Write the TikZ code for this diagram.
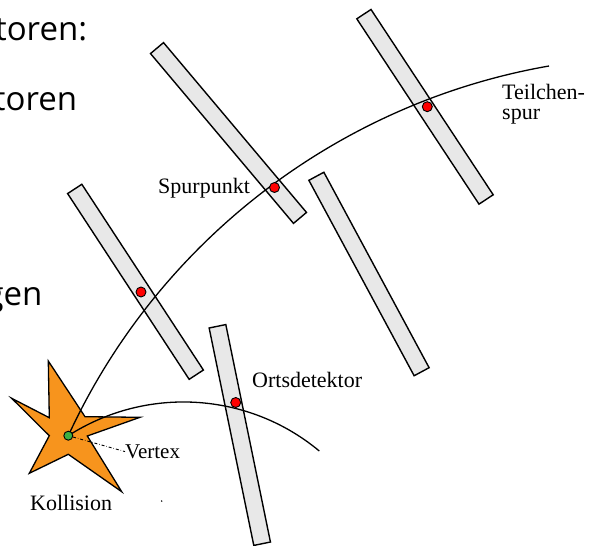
\documentclass[tikz,border=0pt]{standalone}
\usepackage{fontspec}
\setmainfont{Liberation Serif}
\newfontfamily\slidefont{Open Sans}
\usepackage{xcolor}
\usetikzlibrary{calc, positioning}
\definecolor{stripgray}{HTML}{E8E8E8}
\definecolor{starorange}{HTML}{F7941D}
\definecolor{vtxgreen}{HTML}{3CB043}

\begin{document}
\begin{tikzpicture}
                      [x=1pt, y=-1pt,
                       strip/.style={draw, fill=stripgray, rectangle, line width=1.4pt, minimum width=222pt, minimum height=17pt, inner sep=0pt, outer sep=0pt},
                       hit/.style={draw, fill=red, circle, line width=0.9pt, minimum size=10pt, inner sep=0pt},
                       vtxdot/.style={draw, fill=vtxgreen, circle, line width=0.9pt, minimum size=9pt, inner sep=0pt},
                       track/.style={line width=1.3pt},
                       lbl/.style={inner sep=0pt, font=\fontsize{22}{20}\selectfont},
                       slide/.style={inner sep=0pt, anchor=base east, font=\slidefont\fontsize{33}{36}\selectfont}]
                      \useasboundingbox (0,0) rectangle (592,546);

                      % slide text %
                      \node[slide] (s1) at (87.3,40.7) {toren:};
                      \node[slide] (s2) at (77.3,110) {toren};
                      \node[slide] (s3) at (42.7,305) {gen};

                      % detectors %
                      \node[strip, rotate=-49.9] (det1) at (228.5,133) {};
                      \node[strip, rotate=-56.6] (det2) at (425,106.8) {};
                      \node[strip, rotate=-61.7] (det3) at (369,274) {};
                      \node[strip, rotate=-56.8] (det4) at (135.5,281.8) {};
                      \node[strip, rotate=-78.4] (det5) at (239.8,435) {};

                      % collision %
                      \draw[fill=starorange, line width=1.3pt, line join=miter]
                        (48.3,361) -- (85,416.7) -- (140,417.3) -- (87.3,436) -- (121.7,491.7)
                        -- (68.3,454.3) -- (29.3,473.3) -- (49.3,435.7) -- (11.7,398.3) -- (49.3,417.7) -- cycle;
                      \coordinate (vertex) at (68.3,435.7);
                      \coordinate (end1) at (549,66);
                      \coordinate (end2) at (319.3,451);

                      % tracks %
                      \draw[track] (vertex) .. controls (157.7,241.6) and (338.1,102.8) .. (end1);
                      \draw[track] (vertex) .. controls (146,385.8) and (248,391.6) .. (end2);

                      % hits %
                      \node[hit] (hit1) at (141,292) {};
                      \node[hit] (hit2) at (274.5,187.5) {};
                      \node[hit] (hit3) at (427.3,106.7) {};
                      \node[hit] (hit4) at (235.7,402.5) {};
                      \node[vtxdot] (vtx) at (vertex) {};

                      % labels %
                      \node[lbl, anchor=base west] (spurpunkt) at (158,193) {Spurpunkt};
                      \node[lbl, anchor=base west] (ortsdet) at (252,387) {Ortsdetektor};
                      \node[lbl, anchor=base west, font=\fontsize{21}{20}\selectfont] (vtxlbl) at (125,458.3) {Vertex};
                      \node[lbl, anchor=base west] (kollision) at (30,510) {Kollision};
                      \node[lbl, anchor=north west, align=left] (spur) at (502,84.3) {Teilchen-\\spur};

                      \draw[dash dot, line width=0.9pt] (vtx) -- (vtxlbl.west);
                      \fill (161.7,501) circle (0.8);
                    \end{tikzpicture}
\end{document}
